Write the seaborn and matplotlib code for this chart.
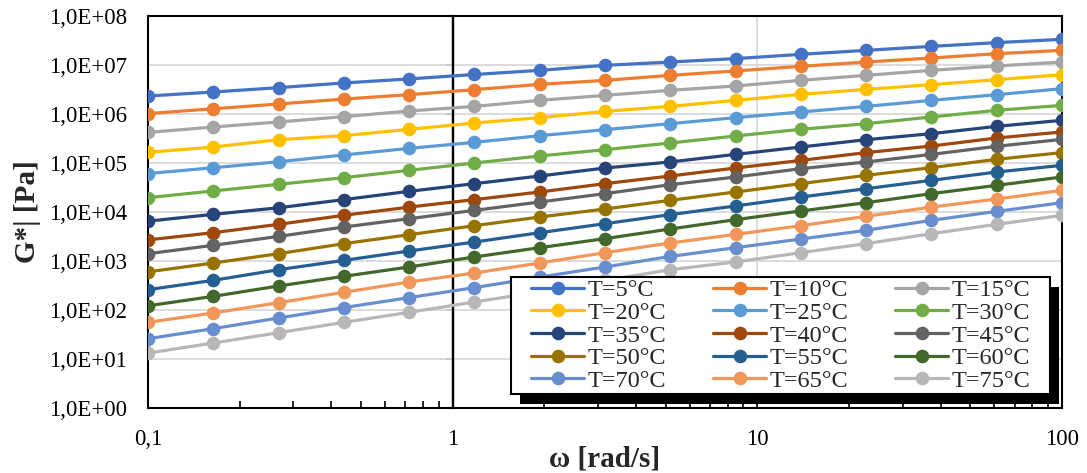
import numpy as np
import matplotlib
matplotlib.use("Agg")
import matplotlib.pyplot as plt
import seaborn as sns
from matplotlib.patches import Rectangle
from matplotlib.ticker import FixedLocator, FuncFormatter, LogLocator, NullFormatter, NullLocator

# ---------------- data ----------------
omega = [0.1, 0.1638, 0.2683, 0.4394, 0.7197, 1.179, 1.931, 3.162,
         5.179, 8.483, 13.89, 22.76, 37.28, 61.05, 100.0]

T5 = [2.33e6, 2.81e6, 3.45e6, 4.3e6, 5.2e6, 6.4e6, 7.78e6, 9.84e6,
      1.15e7, 1.35e7, 1.65e7, 1.99e7, 2.4e7, 2.86e7, 3.34e7]
T10 = [1.02e6, 1.28e6, 1.6e6, 2.02e6, 2.48e6, 3.14e6, 4.03e6, 4.86e6,
       6.15e6, 7.55e6, 9.4e6, 1.15e7, 1.39e7, 1.7e7, 1.99e7]
T15 = [4.2e5, 5.43e5, 6.87e5, 8.83e5, 1.15e6, 1.43e6, 1.9e6, 2.4e6,
       3.04e6, 3.73e6, 4.86e6, 6.15e6, 7.78e6, 9.55e6, 1.15e7]
T20 = [1.65e5, 2.12e5, 2.99e5, 3.61e5, 4.87e5, 6.55e5, 8.42e5, 1.13e6,
       1.43e6, 1.9e6, 2.52e6, 3.18e6, 3.97e6, 5.02e6, 6.35e6]
T25 = [6.1e4, 8.0e4, 1.06e5, 1.46e5, 1.99e5, 2.64e5, 3.61e5, 4.79e5,
       6.35e5, 8.42e5, 1.1e6, 1.43e6, 1.9e6, 2.48e6, 3.29e6]
T30 = [1.96e4, 2.69e4, 3.67e4, 5.02e4, 7.08e4, 1.0e5, 1.39e5, 1.87e5,
       2.56e5, 3.56e5, 4.87e5, 6.35e5, 8.69e5, 1.19e6, 1.5e6]
T35 = [6.5e3, 8.96e3, 1.22e4, 1.79e4, 2.64e4, 3.79e4, 5.43e4, 7.9e4,
       1.05e5, 1.5e5, 2.12e5, 2.99e5, 3.97e5, 5.6e5, 7.43e5]
T40 = [2.7e3, 3.78e3, 5.6e3, 8.56e3, 1.26e4, 1.79e4, 2.56e4, 3.79e4,
       5.43e4, 7.9e4, 1.13e5, 1.63e5, 2.22e5, 3.24e5, 4.3e5]
T45 = [1.41e3, 2.09e3, 3.18e3, 4.94e3, 7.3e3, 1.08e4, 1.6e4, 2.37e4,
       3.61e4, 5.18e4, 7.66e4, 1.05e5, 1.5e5, 2.19e5, 3.04e5]
T50 = [600, 910, 1.41e3, 2.26e3, 3.44e3, 5.26e3, 7.9e3, 1.15e4,
       1.73e4, 2.56e4, 3.79e4, 5.6e4, 8.03e4, 1.19e5, 1.63e5]
T55 = [260, 403, 665, 1.03e3, 1.6e3, 2.44e3, 3.78e3, 5.78e3,
       8.83e3, 1.33e4, 2.02e4, 2.99e4, 4.43e4, 6.55e4, 8.95e4]
T60 = [122, 190, 309, 487, 755, 1.21e3, 1.87e3, 2.86e3,
       4.5e3, 6.98e3, 1.05e4, 1.55e4, 2.37e4, 3.5e4, 5.18e4]
T70 = [26, 41.6, 68.7, 112, 179, 286, 470, 755,
       1.24e3, 1.87e3, 2.81e3, 4.23e3, 6.76e3, 1.03e4, 1.55e4]
T65 = [56, 87, 141, 230, 373, 569, 910, 1.48e3,
       2.33e3, 3.5e3, 5.26e3, 8.17e3, 1.26e4, 1.84e4, 2.77e4]
T75 = [13.2, 21.2, 34.4, 56, 89.5, 146, 235, 400,
       665, 955, 1.48e3, 2.26e3, 3.61e3, 5.6e3, 8.56e3]

labels = ["T=5°C", "T=10°C", "T=15°C", "T=20°C", "T=25°C", "T=30°C",
          "T=35°C", "T=40°C", "T=45°C", "T=50°C", "T=55°C", "T=60°C",
          "T=70°C", "T=65°C", "T=75°C"]
series = [T5, T10, T15, T20, T25, T30, T35, T40, T45, T50, T55, T60, T70, T65, T75]
colors = ["#4472C4", "#ED7D31", "#A5A5A5", "#FFC000", "#5B9BD5", "#70AD47",
          "#264478", "#9E480E", "#636363", "#997300", "#255E91", "#43682B",
          "#698ED0", "#F1975A", "#B7B7B7"]

x_tick_values = [0.1, 1, 10, 100]
x_tick_labels = ["0,1", "1", "10", "100"]
y_decades = list(range(0, 9))

# ---------------- style ----------------
sns.set_style("white")
plt.rcParams["font.family"] = ["Liberation Serif", "DejaVu Serif"]

W, H = 1087, 473
fig = plt.figure(figsize=(W / 100, H / 100), dpi=100)
ax = fig.add_axes([148 / W, 65 / H, 914 / W, 392 / H])
ax.set_xscale("log")
ax.set_yscale("log")

for lab, vals, col in zip(labels, series, colors):
    sns.lineplot(x=omega, y=vals, color=col, marker="o", markersize=9.8,
                 markeredgewidth=0, linewidth=2.3, label=lab, ax=ax, zorder=3)

ax.set_xlim(0.1, 100)
ax.set_ylim(1, 1e8)

# y ticks
ax.yaxis.set_major_locator(FixedLocator([10.0 ** k for k in y_decades]))
ax.yaxis.set_minor_locator(NullLocator())
ax.yaxis.set_major_formatter(FuncFormatter(lambda v, p: "1,0E+%02d" % int(round(np.log10(v)))))
ax.tick_params(axis="y", which="both", length=0, pad=15, labelsize=16.5, labelcolor="black")

# x ticks
ax.xaxis.set_major_locator(FixedLocator(x_tick_values))
ax.xaxis.set_major_formatter(FuncFormatter(
    lambda v, p: x_tick_labels[int(np.argmin([abs(np.log10(v) - np.log10(t)) for t in x_tick_values]))]))
ax.xaxis.set_minor_locator(LogLocator(base=10, subs=np.arange(2, 10)))
ax.xaxis.set_minor_formatter(NullFormatter())
ax.tick_params(axis="x", which="both", direction="in", length=5, width=1.2,
               color="black", pad=15, labelsize=16.5, labelcolor="black", bottom=True, top=False)

# grid
ax.grid(axis="both", which="major", color="#D9D9D9", linewidth=1.3)
ax.grid(axis="both", which="minor", visible=False)
ax.set_axisbelow(True)

for s in ax.spines.values():
    s.set_color("black")
    s.set_linewidth(1.5)
    s.set_visible(True)

# vertical axis crossing at omega = 1
ax.axvline(1, color="black", linewidth=1.6, zorder=2)
sec = ax.secondary_yaxis(1 / 3)
sec.yaxis.set_major_locator(FixedLocator([10.0 ** k for k in y_decades]))
sec.yaxis.set_minor_locator(NullLocator())
sec.yaxis.set_major_formatter(NullFormatter())
sec.tick_params(axis="y", which="major", direction="out", length=5, width=1.2,
                color="black", left=True, right=False, labelleft=False, labelright=False)
for s in sec.spines.values():
    s.set_color("black")
    s.set_linewidth(1.6)

ax.set_xlabel("ω [rad/s]", fontsize=21, fontweight="bold", labelpad=-3)
ax.set_ylabel("G*| [Pa]", fontsize=21, fontweight="bold", labelpad=6)

# legend (row-wise order), frame drawn separately
handles, labs = ax.get_legend_handles_labels()
order = [0, 3, 6, 9, 12, 1, 4, 7, 10, 13, 2, 5, 8, 11, 14]
x_left = (531 - 148) / 914
x_right = (1030 - 148) / 914
y_top = (408 - 279) / 392
leg = ax.legend([handles[i] for i in order], [labs[i] for i in order], ncol=3,
                loc="upper left", bbox_to_anchor=(x_left, 0.0, x_right - x_left, y_top),
                mode="expand", borderaxespad=0, fontsize=17.5, frameon=False,
                handlelength=2.2, handletextpad=0.12, labelspacing=0.03,
                borderpad=0.0, columnspacing=1.0)
leg.set_zorder(11)

fig.canvas.draw()
bb = leg.get_window_extent()
inv = ax.transAxes.inverted()
padx, pady = 20, 2
fx0, fy0 = bb.x0 - padx, bb.y0 - pady
fx1, fy1 = bb.x1 + padx, bb.y1 + pady


def add_box(px0, py0, px1, py1, face, edge, lw, z):
    a0 = inv.transform((px0, py0))
    a1 = inv.transform((px1, py1))
    r = Rectangle((a0[0], a0[1]), a1[0] - a0[0], a1[1] - a0[1], transform=ax.transAxes,
                  facecolor=face, edgecolor=edge, linewidth=lw, zorder=z, clip_on=False)
    ax.add_artist(r)


dx, dy = 9, -10
add_box(fx0 + dx, fy0 + dy, fx1 + dx, fy1 + dy, "black", "none", 0, 9)
add_box(fx0, fy0, fx1, fy1, "white", "black", 1.5, 10)

fig.savefig("out.png", dpi=100)
